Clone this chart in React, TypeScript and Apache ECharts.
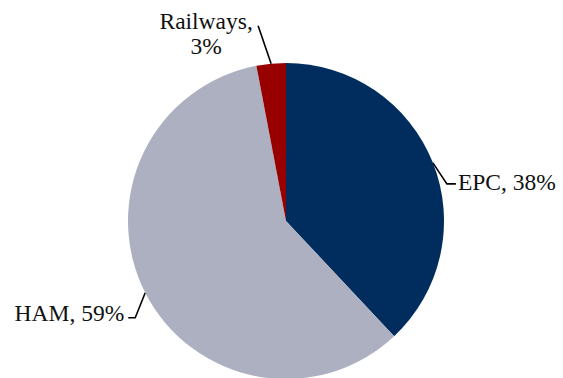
import React, { useEffect, useRef } from "react";
import * as echarts from "echarts";

const categories = ["EPC", "HAM", "Railways"];
const values = [38, 59, 3];
const colors = ["#002C5E", "#ADB0C0", "#980000"];
const labelTexts = ["EPC, 38%", "HAM, 59%", "Railways,\n3%"];

// label placement tweaks (elbow offsets, horizontal tail, label anchor)
const labelPlacement = [
  { elbow: [14, 21], tail: 9, gap: 2, align: "left", dy: -2 },
  { elbow: [-10, 25], tail: -7, gap: -4, align: "right", dy: -5 },
  { elbow: [-13, -38], tail: 0, gap: 0, align: "center", dy: 0 },
];

export default function App() {
  const ref = useRef<HTMLDivElement>(null);
  useEffect(() => {
    if (!ref.current) return;
    const chart = echarts.init(ref.current, undefined, { renderer: "svg" });
    chart.setOption({
      animation: false,
      backgroundColor: "#ffffff",
      series: [
        {
          type: "pie",
          center: [286, 221],
          radius: [0, 158],
          startAngle: 90,
          clockwise: true,
          avoidLabelOverlap: false,
          itemStyle: { borderWidth: 0 },
          emphasis: { disabled: true },
          label: {
            show: true,
            position: "outside",
            fontFamily: "'Liberation Serif', 'DejaVu Serif', serif",
            fontSize: 23.5,
            color: "#111111",
            lineHeight: 25,
            formatter: (p: any) => labelTexts[p.dataIndex],
          },
          labelLine: {
            show: true,
            length: 20,
            length2: 8,
            lineStyle: { color: "#000000", width: 1.6 },
          },
          labelLayout: (params: any) => {
            const i = params.dataIndex;
            const cfg = labelPlacement[i];
            const p0 = params.labelLinePoints[0];
            const p1 = [p0[0] + cfg.elbow[0], p0[1] + cfg.elbow[1]];
            const p2 = [p1[0] + cfg.tail, p1[1]];
            if (i === 2) {
              return {
                x: p1[0] - 52,
                y: p1[1] + 8,
                align: "center",
                verticalAlign: "middle",
                labelLinePoints: [p0, p1, p1],
              };
            }
            return {
              x: p2[0] + cfg.gap,
              y: p2[1] + cfg.dy,
              align: cfg.align,
              verticalAlign: "middle",
              labelLinePoints: [p0, p1, p2],
            };
          },
          data: categories.map((c, i) => ({
            name: c,
            value: values[i],
            itemStyle: { color: colors[i] },
          })),
        },
      ],
    });
    return () => chart.dispose();
  }, []);
  return <div ref={ref} style={{ width: 563, height: 378, position: "absolute", left: 0, top: 0 }} />;
}
